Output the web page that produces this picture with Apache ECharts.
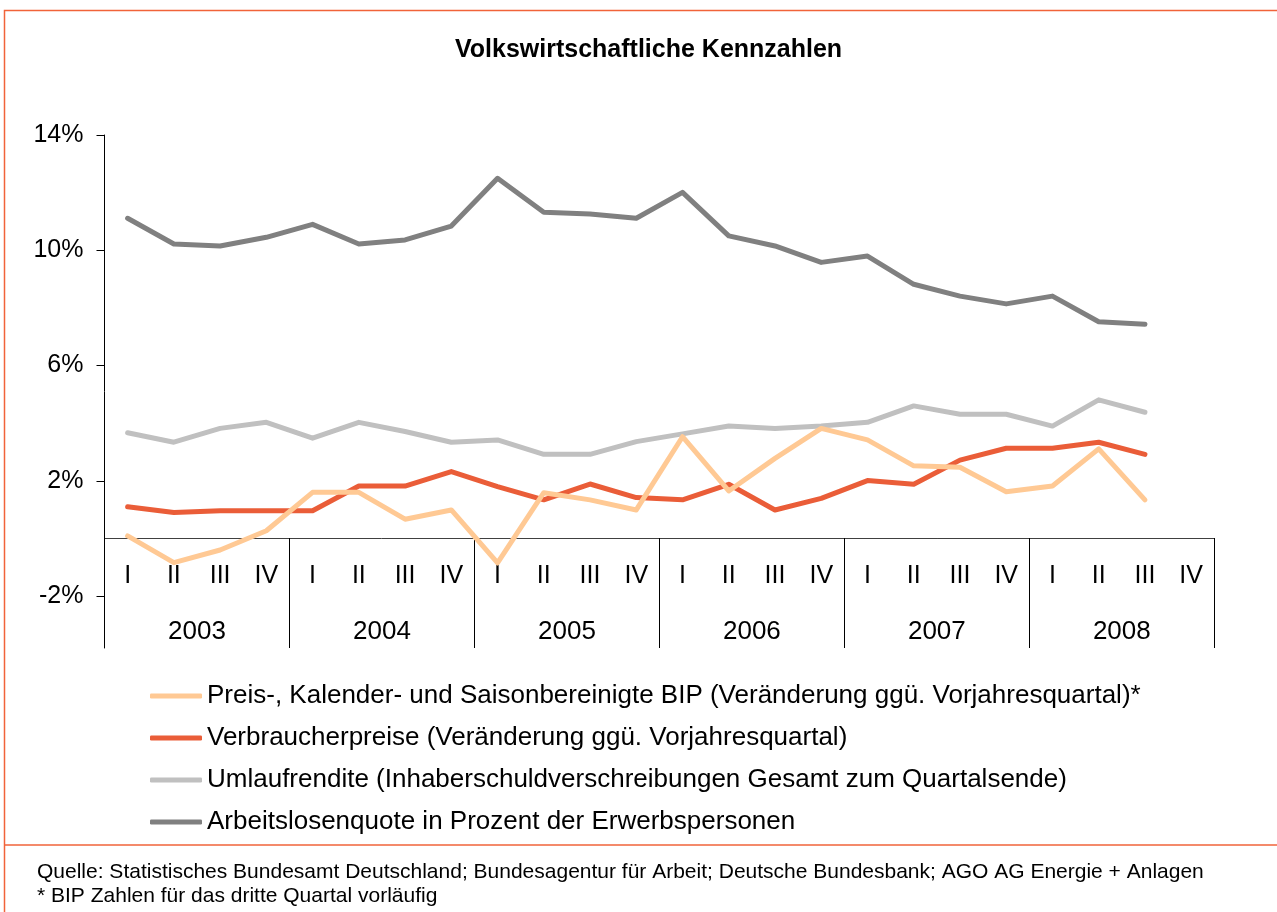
<!DOCTYPE html>
<html>
<head>
<meta charset="utf-8">
<title>Volkswirtschaftliche Kennzahlen</title>
<script src="https://cdn.jsdelivr.net/npm/echarts@6/dist/echarts.min.js"></script>
<style>
  html, body { margin: 0; padding: 0; background: #fff; }
  #chart { width: 1277px; height: 912px; }
</style>
</head>
<body>
<div id="chart"></div>
<script>
// Daten (Quartale 2003 - 2008)
var years = ['2003', '2004', '2005', '2006', '2007', '2008'];
var quarters = ['I', 'II', 'III', 'IV'];
var yTicks = [-2, 2, 6, 10, 14];

var bip = [0.09, -0.84, -0.40, 0.27, 1.60, 1.60, 0.67, 0.99,
           -0.85, 1.59, 1.34, 0.99, 3.53, 1.65, 2.78, 3.82,
           3.42, 2.52, 2.47, 1.62, 1.82, 3.11, 1.34, null];
var verbraucherpreise = [1.10, 0.90, 0.96, 0.96, 0.96, 1.82, 1.82, 2.32,
                         1.80, 1.34, 1.89, 1.42, 1.34, 1.88, 0.99, 1.39,
                         2.01, 1.88, 2.72, 3.13, 3.13, 3.34, 2.92, null];
var umlaufrendite = [3.67, 3.34, 3.82, 4.03, 3.48, 4.03, 3.71, 3.34,
                     3.42, 2.92, 2.92, 3.36, 3.63, 3.90, 3.82, 3.90,
                     4.03, 4.60, 4.31, 4.31, 3.90, 4.81, 4.38, null];
var arbeitslosenquote = [11.11, 10.22, 10.15, 10.45, 10.90, 10.22, 10.36, 10.84,
                         12.50, 11.32, 11.26, 11.11, 12.01, 10.50, 10.15, 9.58,
                         9.80, 8.82, 8.41, 8.14, 8.41, 7.52, 7.43, null];

var seriesNames = [
  'Preis-, Kalender- und Saisonbereinigte BIP (Veränderung ggü. Vorjahresquartal)*',
  'Verbraucherpreise (Veränderung ggü. Vorjahresquartal)',
  'Umlaufrendite (Inhaberschuldverschreibungen Gesamt zum Quartalsende)',
  'Arbeitslosenquote in Prozent der Erwerbspersonen'
];
var seriesColors = ['#ffc994', '#ea5d38', '#c0c0c0', '#808080'];

var font = "'Liberation Sans', Arial, sans-serif";
var borderColor = '#f1633a';

// Kategorien "2003 I", "2003 II", ...
var categories = [];
years.forEach(function (y) {
  quarters.forEach(function (q) { categories.push(y + ' ' + q); });
});

var chart = echarts.init(document.getElementById('chart'));

var values = [bip, verbraucherpreise, umlaufrendite, arbeitslosenquote];
var series = values.map(function (data, i) {
  return {
    name: seriesNames[i],
    type: 'line',
    xAxisIndex: 0,
    yAxisIndex: 0,
    data: data,
    symbol: 'none',
    smooth: false,
    z: 10 - i,
    lineStyle: { color: seriesColors[i], width: 5, cap: 'round', join: 'round' },
    itemStyle: { color: seriesColors[i] }
  };
});

var option = {
  animation: false,
  backgroundColor: '#fff',
  title: [{
    text: 'Volkswirtschaftliche Kennzahlen',
    left: 450,
    top: 33,
    textStyle: { fontFamily: font, fontSize: 25, fontWeight: 'bold', color: '#000' }
  }, {
    text: 'Quelle: Statistisches Bundesamt Deutschland; Bundesagentur für Arbeit; Deutsche Bundesbank; AGO AG Energie + Anlagen\n* BIP Zahlen für das dritte Quartal vorläufig',
    left: 32,
    top: 855,
    textStyle: { fontFamily: font, fontSize: 21, fontWeight: 'normal', color: '#000', lineHeight: 24 }
  }],
  legend: {
    orient: 'vertical',
    left: 150,
    top: 681,
    padding: 0,
    icon: 'roundRect',
    itemWidth: 52,
    itemHeight: 5,
    itemGap: 12,
    textStyle: { fontFamily: font, fontSize: 26, color: '#000', lineHeight: 30 },
    data: seriesNames
  },
  grid: { left: 104.5, right: 62.7, top: 135, bottom: 264 },
  xAxis: [{
    // Quartale, Achse liegt auf der 0%-Linie
    type: 'category',
    data: categories,
    boundaryGap: true,
    position: 'bottom',
    offset: -109.5,
    axisLine: { onZero: false, lineStyle: { color: '#404040', width: 1 } },
    axisTick: { show: false },
    axisLabel: {
      interval: 0,
      margin: 25,
      fontFamily: font,
      fontSize: 25,
      color: '#000',
      formatter: function (v) { return v.split(' ')[1]; }
    },
    splitLine: { show: false }
  }, {
    // Jahre, mit Trennlinien
    type: 'category',
    data: years,
    boundaryGap: true,
    position: 'bottom',
    axisLine: { show: false, onZero: false },
    axisTick: { show: true, inside: true, interval: 0, length: 110, lineStyle: { color: '#000', width: 1 } },
    axisLabel: { inside: true, interval: 0, margin: 3, fontFamily: font, fontSize: 26, color: '#000' },
    splitLine: { show: false }
  }],
  yAxis: {
    type: 'value',
    min: -3.8,
    max: 14,
    axisLine: { show: true, lineStyle: { color: '#000', width: 1 } },
    axisTick: { show: true, length: 8, customValues: yTicks, lineStyle: { color: '#000' } },
    axisLabel: {
      customValues: yTicks,
      margin: 21,
      fontFamily: font,
      fontSize: 25,
      color: '#000',
      formatter: function (v) { return v + '%'; }
    },
    splitLine: { show: false }
  },
  graphic: [{
    type: 'polyline',
    shape: { points: [[1277, 10.5], [4.5, 10.5], [4.5, 912]] },
    style: { stroke: borderColor, lineWidth: 1.5, fill: null },
    silent: true
  }, {
    type: 'line',
    shape: { x1: 4.5, y1: 845, x2: 1277, y2: 845 },
    style: { stroke: borderColor, lineWidth: 1.5 },
    silent: true
  }],
  series: series
};

chart.setOption(option);
</script>
</body>
</html>
